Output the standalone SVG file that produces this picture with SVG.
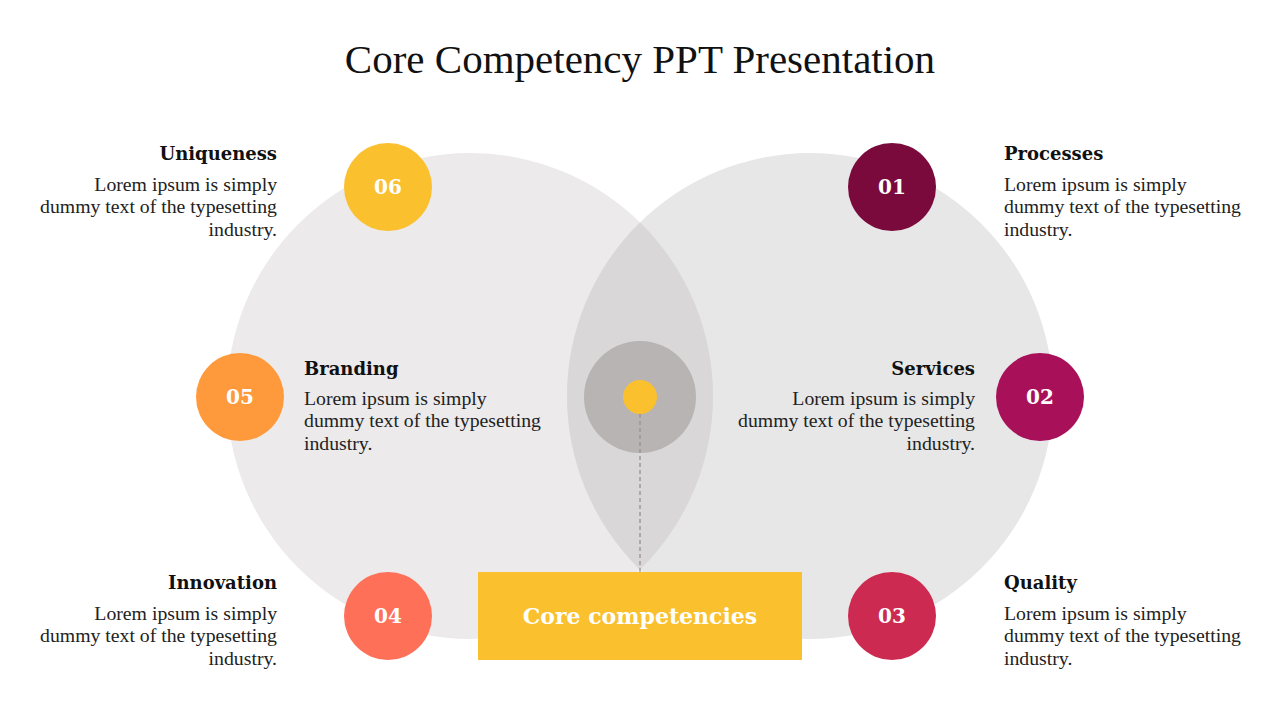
<svg xmlns="http://www.w3.org/2000/svg" width="1280" height="720" viewBox="0 0 1280 720">
<defs>
<style>
.title{font-family:"Liberation Serif",serif;font-size:41px;fill:#111}
.head{font-family:"DejaVu Serif",serif;font-size:18px;font-weight:bold;fill:#111}
.body{font-family:"Liberation Serif",serif;font-size:19.75px;fill:#222}
.num{font-family:"DejaVu Serif",serif;font-size:20px;font-weight:bold;fill:#fff}
.core{font-family:"DejaVu Serif",serif;font-size:22px;font-weight:bold;fill:#fff}
</style>
<clipPath id="clipL"><circle cx="470" cy="396" r="243"/></clipPath>
</defs>
<rect width="1280" height="720" fill="#fff"/>
<text class="title" x="640" y="73" text-anchor="middle">Core Competency PPT Presentation</text>
<g id="venn">
<circle cx="470" cy="396" r="243" fill="#ECEAEB"/>
<circle cx="810" cy="396" r="243" fill="#E7E7E7"/>
<circle cx="810" cy="396" r="243" fill="#D9D7D8" clip-path="url(#clipL)"/>
</g>
<g id="center">
<circle cx="640" cy="397" r="56" fill="#B7B4B3"/>
<circle cx="640" cy="397" r="17" fill="#FBC02D"/>
</g>
<g id="connectors">
<line x1="640" y1="414" x2="640" y2="572" stroke="#9A9090" stroke-width="1.3" stroke-dasharray="4,3"/>
</g>
<g id="core">
<rect x="478" y="572" width="324" height="88" fill="#FBC02D"/>
<text class="core" x="640" y="624" text-anchor="middle">Core competencies</text>
</g>
<g id="n06">
<circle cx="388" cy="187" r="44" fill="#FBC02D"/>
<text class="num" x="388" y="194" text-anchor="middle">06</text>
<text class="head" x="277" y="160" text-anchor="end">Uniqueness</text>
<text class="body" text-anchor="end"><tspan x="277" y="191">Lorem ipsum is simply</tspan><tspan x="277" y="213">dummy text of the typesetting</tspan><tspan x="277" y="236">industry.</tspan></text>
</g>
<g id="n01">
<circle cx="892" cy="187" r="44" fill="#7A0A3C"/>
<text class="num" x="892" y="194" text-anchor="middle">01</text>
<text class="head" x="1004" y="160">Processes</text>
<text class="body"><tspan x="1004" y="191">Lorem ipsum is simply</tspan><tspan x="1004" y="213">dummy text of the typesetting</tspan><tspan x="1004" y="236">industry.</tspan></text>
</g>
<g id="n05">
<circle cx="240" cy="397" r="44" fill="#FF9A3C"/>
<text class="num" x="240" y="404" text-anchor="middle">05</text>
<text class="head" x="304" y="375">Branding</text>
<text class="body"><tspan x="304" y="405">Lorem ipsum is simply</tspan><tspan x="304" y="427">dummy text of the typesetting</tspan><tspan x="304" y="450">industry.</tspan></text>
</g>
<g id="n02">
<circle cx="1040" cy="397" r="44" fill="#A8105A"/>
<text class="num" x="1040" y="404" text-anchor="middle">02</text>
<text class="head" x="975" y="375" text-anchor="end">Services</text>
<text class="body" text-anchor="end"><tspan x="975" y="405">Lorem ipsum is simply</tspan><tspan x="975" y="427">dummy text of the typesetting</tspan><tspan x="975" y="450">industry.</tspan></text>
</g>
<g id="n04">
<circle cx="388" cy="616" r="44" fill="#FF7058"/>
<text class="num" x="388" y="623" text-anchor="middle">04</text>
<text class="head" x="277" y="589" text-anchor="end">Innovation</text>
<text class="body" text-anchor="end"><tspan x="277" y="620">Lorem ipsum is simply</tspan><tspan x="277" y="642">dummy text of the typesetting</tspan><tspan x="277" y="665">industry.</tspan></text>
</g>
<g id="n03">
<circle cx="892" cy="616" r="44" fill="#CC2A50"/>
<text class="num" x="892" y="623" text-anchor="middle">03</text>
<text class="head" x="1004" y="589">Quality</text>
<text class="body"><tspan x="1004" y="620">Lorem ipsum is simply</tspan><tspan x="1004" y="642">dummy text of the typesetting</tspan><tspan x="1004" y="665">industry.</tspan></text>
</g>
</svg>
